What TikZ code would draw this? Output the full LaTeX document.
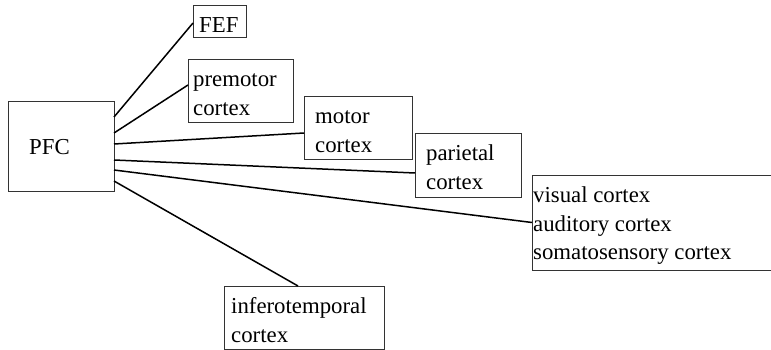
\documentclass[tikz,border=0pt]{standalone}
\usepackage{fontspec}
\setmainfont{Liberation Serif}
\begin{document}
\begin{tikzpicture}[x=1pt,y=-1pt,
  box/.style={draw=black!80,line width=0.9pt,inner sep=0pt,outer sep=0pt,anchor=north west},
  lbl/.style={anchor=base west,inner sep=0pt,align=left,font=\rmfamily\fontsize{22.8}{28.5}\selectfont},
  conn/.style={draw=black,line width=1.5pt}]
\useasboundingbox (0,0) rectangle (771,350);
\node[box,minimum width=106pt,minimum height=90pt] (pfc) at (8,101) {};
\node[box,minimum width=53pt,minimum height=32pt] (fef) at (193,5) {};
\node[box,minimum width=105pt,minimum height=63pt] (pm) at (188,59) {};
\node[box,minimum width=108pt,minimum height=63pt] (mot) at (304,96) {};
\node[box,minimum width=106pt,minimum height=64pt] (par) at (415,133) {};
\node[box,minimum width=240pt,minimum height=95pt] (vis) at (532,175) {};
\node[box,minimum width=160pt,minimum height=63pt] (inf) at (224,286) {};
\node[lbl] (tpfc) at (29,155) {PFC};
\node[lbl] (tfef) at (199,33) {FEF};
\node[lbl] (tpm) at (193,115.5) {premotor\\\rmfamily cortex};
\node[lbl] (tmot) at (315,152.5) {motor\\\rmfamily cortex};
\node[lbl] (tpar) at (426,189.5) {parietal\\\rmfamily cortex};
\node[lbl] (tvis) at (533,259.5) {visual cortex\\\rmfamily auditory cortex\\\rmfamily somatosensory cortex};
\node[lbl] (tinf) at (231,342) {inferotemporal\\\rmfamily cortex};
\draw[conn] ([yshift=-16pt]pfc.north east) -- ([yshift=-2pt]fef.west);
\draw[conn] ([yshift=-32pt]pfc.north east) -- ([yshift=5.5pt]pm.west);
\draw[conn] ([yshift=-43pt]pfc.north east) -- ([yshift=-5.5pt]mot.west);
\draw[conn] ([yshift=-59pt]pfc.north east) -- ([yshift=-8pt]par.west);
\draw[conn] ([yshift=-69pt]pfc.north east) -- (vis.west);
\draw[conn] ([yshift=-80pt]pfc.north east) -- ([xshift=-6pt]inf.north);
\end{tikzpicture}
\end{document}
